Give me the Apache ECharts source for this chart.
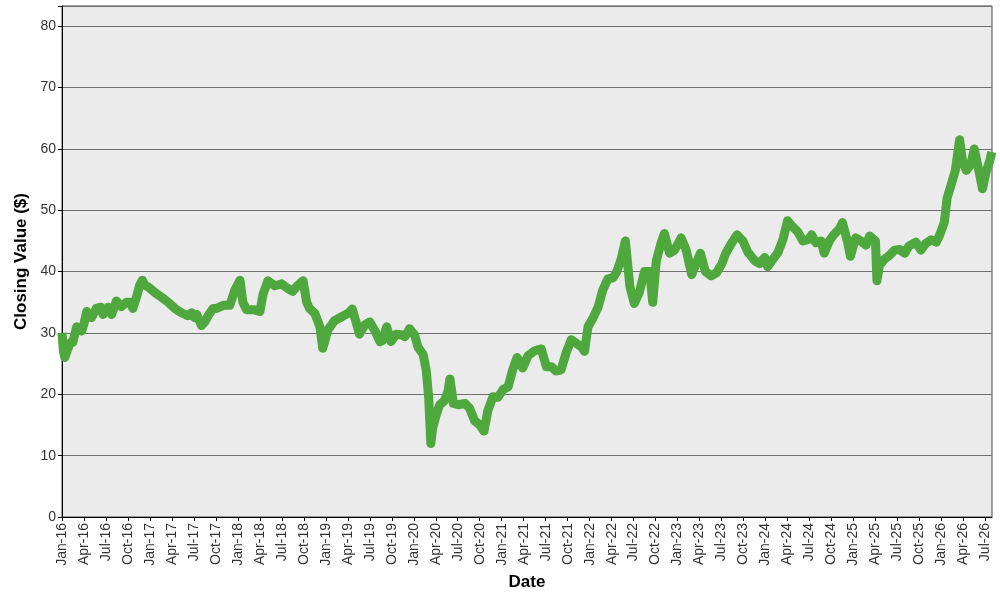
<!DOCTYPE html>
<html>
<head>
<meta charset="utf-8">
<script src="https://cdn.jsdelivr.net/npm/echarts@6/dist/echarts.min.js"></script>
<style>
  html, body { margin: 0; padding: 0; background: #fff; }
  #chart { width: 1000px; height: 600px; }
</style>
</head>
<body>
<div id="chart"></div>
<script>
// closing values, one entry per date
const dates = [
  '2016-01-01','2016-01-07','2016-01-13','2016-01-27','2016-02-07','2016-02-15','2016-03-01','2016-03-22',
  '2016-04-01','2016-04-12','2016-05-02','2016-05-22','2016-06-10','2016-06-19','2016-07-10','2016-07-25',
  '2016-08-14','2016-09-04','2016-09-25','2016-10-10','2016-10-22','2016-11-07','2016-11-19','2016-11-30',
  '2016-12-10','2016-12-25',
  '2017-01-22','2017-02-18','2017-03-16','2017-04-13','2017-05-10','2017-06-07','2017-06-22','2017-07-04',
  '2017-07-13','2017-08-02','2017-08-16','2017-08-30','2017-09-19','2017-10-04','2017-11-01','2017-11-28',
  '2017-12-19',
  '2018-01-10','2018-01-16','2018-01-22','2018-02-06','2018-03-04','2018-04-01','2018-04-14','2018-05-04',
  '2018-06-02','2018-06-30','2018-07-28','2018-08-16','2018-09-07','2018-09-28','2018-10-13','2018-10-25',
  '2018-11-16','2018-12-07','2018-12-19',
  '2019-01-10','2019-02-06','2019-03-04','2019-04-02','2019-04-19','2019-05-07','2019-05-19','2019-06-10',
  '2019-07-01','2019-07-22','2019-08-13','2019-08-25','2019-09-10','2019-09-28','2019-10-19','2019-11-10',
  '2019-11-25','2019-12-14',
  '2020-01-04','2020-01-19','2020-02-09','2020-02-21','2020-03-02','2020-03-11','2020-03-19','2020-04-04',
  '2020-04-16','2020-05-07','2020-05-22','2020-05-30','2020-06-13','2020-07-02','2020-08-01','2020-08-19',
  '2020-09-10','2020-10-01','2020-10-19','2020-11-04','2020-11-25','2020-12-16',
  '2021-01-07','2021-01-28','2021-02-15','2021-03-04','2021-03-13','2021-03-28','2021-04-19','2021-05-16',
  '2021-06-13','2021-07-04','2021-07-25','2021-08-13','2021-09-04','2021-09-25','2021-10-16','2021-11-07',
  '2021-11-28','2021-12-10','2021-12-25',
  '2022-01-16','2022-02-06','2022-02-23','2022-03-16','2022-04-07','2022-04-22','2022-05-10','2022-05-28',
  '2022-06-16','2022-07-04','2022-07-25','2022-08-16','2022-09-07','2022-09-19','2022-10-04','2022-10-25',
  '2022-11-07','2022-11-28','2022-12-19',
  '2023-01-16','2023-02-06','2023-02-27','2023-03-19','2023-04-04','2023-04-25','2023-05-19','2023-06-10',
  '2023-07-01','2023-07-19','2023-08-10','2023-09-04','2023-09-28','2023-10-19','2023-11-16','2023-12-07',
  '2023-12-28',
  '2024-01-10','2024-02-01','2024-02-21','2024-03-13','2024-04-01','2024-04-22','2024-05-13','2024-06-04',
  '2024-06-25','2024-07-10','2024-07-28','2024-08-19','2024-09-01','2024-09-22','2024-10-10','2024-11-04',
  '2024-11-16','2024-12-07','2024-12-19',
  '2025-01-10','2025-02-01','2025-02-21','2025-03-07','2025-04-01','2025-04-07','2025-04-17','2025-05-07',
  '2025-05-28','2025-06-19','2025-07-10','2025-08-01','2025-08-19','2025-09-16','2025-10-07','2025-10-28',
  '2025-11-19','2025-12-10','2025-12-25',
  '2026-01-13','2026-01-25','2026-02-09','2026-02-26','2026-03-16','2026-03-28','2026-04-13','2026-05-01',
  '2026-05-16','2026-06-04','2026-06-19','2026-07-04','2026-07-19','2026-07-28'
];

const closing = [
  30.0, 27.0, 26.0, 27.5, 28.5, 28.5, 31.0, 30.3,
  31.5, 33.5, 32.5, 34.0, 34.2, 33.0, 34.2, 33.0,
  35.2, 34.3, 35.0, 35.0, 34.0, 36.0, 37.8, 38.6,
  37.8, 37.5,
  36.6, 35.8, 35.0, 34.0, 33.3, 32.8, 33.3, 32.5,
  33.0, 31.2, 31.8, 32.8, 34.0, 34.0, 34.5, 34.5,
  37.0,
  38.6, 38.8, 35.0, 33.8, 33.8, 33.5, 36.3, 38.5,
  37.7, 38.0, 37.2, 36.8, 37.8, 38.5, 35.0, 34.0,
  33.2, 31.0, 27.5,
  30.5, 32.0, 32.6, 33.2, 33.9, 31.5, 29.8, 31.3,
  31.8, 30.4, 28.6, 28.8, 31.0, 28.6, 29.8, 29.7,
  29.4, 30.7,
  29.7, 27.7, 26.5, 24.0, 19.5, 12.0, 14.5, 16.8,
  18.2, 19.0, 20.5, 22.5, 18.5, 18.3, 18.5, 17.8,
  15.7, 15.0, 14.0, 17.3, 19.6, 19.5,
  20.8, 21.2, 24.0, 26.0, 25.5, 24.3, 26.3, 27.1,
  27.4, 24.5, 24.5, 23.8, 24.0, 26.8, 28.9, 28.3,
  27.7, 27.0, 31.0,
  32.5, 34.3, 37.0, 38.8, 39.0, 40.0, 42.0, 45.0,
  37.5, 34.8, 36.6, 40.0, 40.0, 35.0, 41.8, 44.8,
  46.2, 43.0, 43.5,
  45.5, 43.5, 39.5, 41.5, 43.0, 40.0, 39.3, 39.8,
  41.2, 43.0, 44.5, 46.0, 45.0, 43.2, 41.8, 41.3,
  42.3,
  40.8, 42.0, 43.1, 45.3, 48.3, 47.3, 46.5, 45.0,
  45.2, 46.0, 44.7, 45.0, 43.0, 45.0, 46.0, 47.0,
  48.0, 44.8, 42.5,
  45.5, 45.0, 44.3, 45.8, 45.0, 38.5, 41.0, 42.0,
  42.6, 43.5, 43.6, 43.0, 44.2, 44.8, 43.5, 44.6,
  45.2, 44.8, 46.0,
  48.0, 52.0, 54.0, 56.5, 61.5, 58.0, 56.5, 57.5,
  60.0, 56.5, 53.5, 56.3, 58.0, 59.5
];

const monthNames = ['Jan','Feb','Mar','Apr','May','Jun','Jul','Aug','Sep','Oct','Nov','Dec'];

// months since Jan 2016, as a fraction
function monthIndex(s) {
  const p = s.split('-').map(Number);
  const days = new Date(p[0], p[1], 0).getDate();
  return (p[0] - 2016) * 12 + (p[1] - 1) + (p[2] - 1) / days;
}

const seriesData = dates.map((d, i) => [monthIndex(d), closing[i]]);

const chart = echarts.init(document.getElementById('chart'));
chart.setOption({
  animation: false,
  backgroundColor: '#fff',
  grid: {
    left: 62, right: 8, top: 6, bottom: 83,
    show: true,
    backgroundColor: '#ebebeb',
    borderColor: '#444',
    borderWidth: 1
  },
  xAxis: {
    type: 'value',
    min: 0,
    max: 126.9,
    interval: 3,
    name: 'Date',
    nameLocation: 'middle',
    nameGap: 56,
    nameTextStyle: { fontFamily: 'Liberation Sans', fontSize: 17, fontWeight: 'bold', color: '#000' },
    axisLine: { lineStyle: { color: '#000', width: 1 } },
    axisTick: { show: true, length: 4, lineStyle: { color: '#000' } },
    splitLine: { show: false },
    axisLabel: {
      rotate: 90,
      margin: 6,
      fontFamily: 'Liberation Sans',
      fontSize: 14,
      color: '#333',
      showMaxLabel: false,
      formatter: function (v) {
        if (Math.abs(v - Math.round(v)) > 1e-6) return '';
        const m = Math.round(v);
        const yy = String(16 + Math.floor(m / 12)).padStart(2, '0');
        return monthNames[m % 12] + '-' + yy;
      }
    }
  },
  yAxis: {
    type: 'value',
    min: 0,
    max: 83.3,
    interval: 10,
    name: 'Closing Value ($)',
    nameLocation: 'middle',
    nameGap: 27,
    nameTextStyle: { fontFamily: 'Liberation Sans', fontSize: 17, fontWeight: 'bold', color: '#000' },
    axisLine: { show: true, lineStyle: { color: '#000', width: 1 } },
    axisTick: { show: true, length: 4, lineStyle: { color: '#000' } },
    splitLine: { show: true, lineStyle: { color: '#6f6f6f', width: 1 } },
    axisLabel: {
      margin: 6,
      fontFamily: 'Liberation Sans',
      fontSize: 14,
      color: '#333',
      formatter: function (v) { return v % 10 === 0 ? String(v) : ''; }
    }
  },
  series: [{
    type: 'line',
    data: seriesData,
    symbol: 'none',
    smooth: false,
    lineStyle: { color: '#4fa83d', width: 9, join: 'round', cap: 'butt' }
  }]
});
</script>
</body>
</html>
